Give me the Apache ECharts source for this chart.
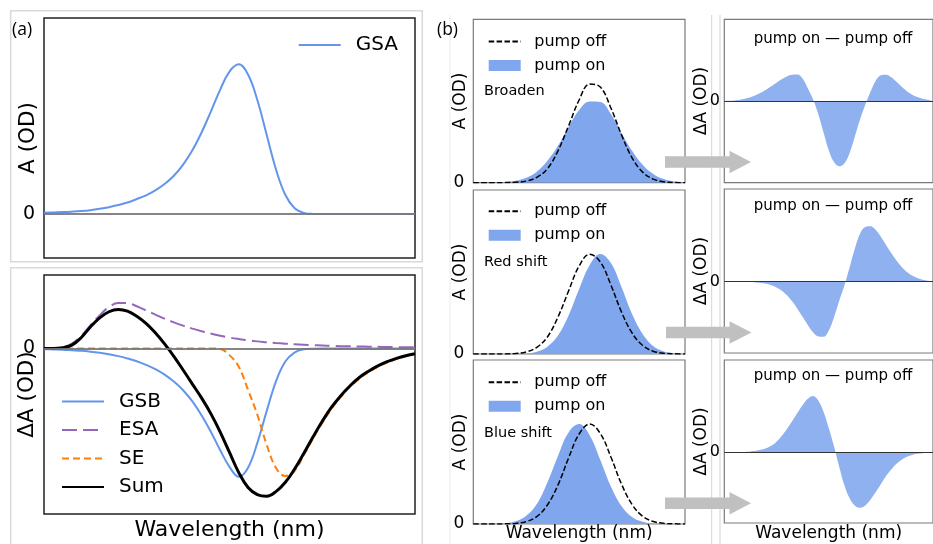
<!DOCTYPE html>
<html><head><meta charset="utf-8">
<script src="https://cdn.jsdelivr.net/npm/echarts@6/dist/echarts.min.js"></script>
<style>html,body{margin:0;padding:0;background:#fff}#c{width:933px;height:544px}</style>
</head><body><div id="c"></div>
<script>
// ---------- panel (a) data: wavelength samples (arb. units) ----------
const xA = [0,2.5,5,7.5,10,12.5,15,17.5,20,22.5,25,27.5,30,32.5,35,37.5,40,42.5,45,47.5,50,52.5,55,57.5,60,62.5,65,67.5,70,72.5,75,77.5,80,82.5,85,87.5,90,92.5,95,97.5,100];
const gsa = [0.009,0.011,0.013,0.016,0.02,0.026,0.035,0.046,0.06,0.077,0.1,0.125,0.158,0.2,0.255,0.33,0.425,0.545,0.685,0.83,0.95,0.998,0.93,0.76,0.53,0.3,0.13,0.04,0.008,0.001,0,0,0,0,0,0,0,0,0,0,0];
const gsb = [-0.004,-0.006,-0.008,-0.011,-0.014,-0.019,-0.026,-0.035,-0.046,-0.06,-0.077,-0.099,-0.125,-0.158,-0.2,-0.252,-0.32,-0.405,-0.505,-0.615,-0.715,-0.775,-0.72,-0.57,-0.38,-0.2,-0.08,-0.025,-0.005,-0.001,0,0,0,0,0,0,0,0,0,0,0];
const esa = [0,0.002,0.008,0.03,0.075,0.14,0.2,0.25,0.275,0.274,0.255,0.23,0.205,0.18,0.158,0.138,0.12,0.104,0.09,0.077,0.066,0.057,0.049,0.043,0.038,0.033,0.029,0.026,0.023,0.02,0.018,0.016,0.014,0.013,0.012,0.011,0.01,0.009,0.008,0.007,0.007];
const se = [0,0,0,0,0,0,0,0,0,0,0,0,0,0,0,0,0,0,0,-0.003,-0.04,-0.11,-0.25,-0.40,-0.58,-0.72,-0.77,-0.74,-0.645,-0.545,-0.45,-0.365,-0.293,-0.232,-0.182,-0.143,-0.11,-0.085,-0.064,-0.047,-0.035];
const sum = [0,0,0.004,0.02,0.065,0.13,0.185,0.222,0.236,0.226,0.195,0.152,0.095,0.028,-0.047,-0.13,-0.215,-0.3,-0.395,-0.505,-0.628,-0.75,-0.84,-0.883,-0.893,-0.865,-0.81,-0.73,-0.635,-0.535,-0.44,-0.355,-0.285,-0.225,-0.175,-0.137,-0.105,-0.08,-0.06,-0.044,-0.032];

// ---------- panel (b) left: absorption spectra ----------
const xB = [0,5,10,15,20,25,30,35,40,45,50,55,60,65,70,75,80,85,90,95,100];
const broadenOff = [0,0,0,0.001,0.004,0.016,0.053,0.14,0.32,0.57,0.83,0.99,0.96,0.75,0.48,0.25,0.106,0.036,0.01,0.002,0];
const broadenOn  = [0,0.0005,0.002,0.006,0.019,0.05,0.11,0.22,0.37,0.56,0.73,0.815,0.81,0.69,0.5,0.32,0.18,0.088,0.037,0.013,0.004];
const redOff  = [0,0,0.0002,0.0011,0.0053,0.021,0.067,0.17,0.37,0.63,0.88,0.998,0.92,0.69,0.42,0.21,0.085,0.028,0.0075,0.0016,0.0003];
const redOn   = [0,0,0,0.0002,0.0013,0.006,0.023,0.073,0.185,0.385,0.65,0.89,1.0,0.91,0.67,0.4,0.2,0.079,0.025,0.0067,0.0014];
const blueOff = [0,0,0.0002,0.0013,0.006,0.024,0.074,0.19,0.39,0.66,0.9,1.0,0.905,0.67,0.4,0.195,0.077,0.025,0.0066,0.0014,0.0002];
const blueOn  = [0,0.0003,0.0015,0.007,0.027,0.082,0.2,0.415,0.68,0.915,0.999,0.886,0.64,0.375,0.18,0.07,0.022,0.0056,0.0012,0.0002,0];

// ---------- panel (b) right: difference spectra ----------
const xD = xA;
const dBroaden = [0,0.002,0.006,0.014,0.027,0.045,0.07,0.1,0.138,0.18,0.224,0.265,0.3,0.321,0.324,0.275,0.155,0.02,-0.16,-0.38,-0.6,-0.745,-0.8,-0.765,-0.64,-0.44,-0.23,-0.05,0.11,0.245,0.315,0.322,0.29,0.235,0.175,0.12,0.078,0.048,0.028,0.015,0.008];
const dRed = [0,0,0,-0.001,-0.003,-0.005,-0.009,-0.015,-0.026,-0.043,-0.07,-0.11,-0.165,-0.24,-0.33,-0.43,-0.53,-0.62,-0.67,-0.675,-0.6,-0.44,-0.24,-0.05,0.17,0.4,0.585,0.67,0.68,0.635,0.55,0.45,0.35,0.26,0.18,0.12,0.075,0.045,0.025,0.013,0.006];
const dBlue = [0,0.001,0.001,0.002,0.005,0.01,0.018,0.03,0.05,0.08,0.13,0.2,0.285,0.38,0.48,0.575,0.655,0.69,0.635,0.5,0.3,0.08,-0.17,-0.4,-0.56,-0.65,-0.678,-0.65,-0.58,-0.49,-0.39,-0.29,-0.21,-0.14,-0.09,-0.055,-0.032,-0.018,-0.01,-0.005,-0.003];

const rowLabels = ['Broaden','Red shift','Blue shift'];
const diffTitle = 'pump on \u2014 pump off';

const F = 'DejaVu Sans';
const BLUE = '#6495ed';
const FILL_L = '#80a7ee';
const FILL_R = '#8fb1ef';
const pairs = (xs, ys) => xs.map((x, i) => [x, ys[i]]);

const chart = echarts.init(document.getElementById('c'), null, {renderer: 'canvas'});

const gridDefs = [
  [44, 18, 371, 240, '#222', 1.5],
  [44, 275, 371, 239, '#222', 1.5],
  [473.3, 19.3, 211.7, 163.4, '#7a7a7a', 1.2],
  [473.3, 190, 211.7, 164, '#7a7a7a', 1.2],
  [473.3, 360, 211.7, 164, '#7a7a7a', 1.2],
  [724.3, 19.3, 211.7, 163.4, '#7a7a7a', 1.2],
  [724.3, 189, 211.7, 164, '#7a7a7a', 1.2],
  [724.3, 360, 211.7, 163, '#7a7a7a', 1.2]
];
const grid = gridDefs.map(g => ({left: g[0], top: g[1], width: g[2], height: g[3], show: true,
  borderColor: g[4], borderWidth: g[5], backgroundColor: 'rgba(0,0,0,0)', containLabel: false}));

const yRanges = [[-0.293, 1.307], [-1, 0.444], [0, 1.64], [0, 1.64], [0, 1.64], [-1, 1], [-0.873, 1.135], [-0.865, 1.13]];
const yNames = ['A (OD)', '\u0394A (OD)', 'A (OD)', 'A (OD)', 'A (OD)', '\u0394A (OD)', '\u0394A (OD)', '\u0394A (OD)'];
const yNameGap = [5, 5.5, 4, 4, 4, 14, 14, 14];
const yNameSize = [21.5, 21.5, 17, 17, 17, 17, 17, 17];
const yLabSize = [19, 19, 17, 17, 17, 16, 16, 16];
const yLabMargin = [9, 9, 9, 9, 9, 4.3, 4.3, 4.3];

const xAxis = grid.map((g, i) => {
  const a = {gridIndex: i, type: 'value', min: 0, max: 100, nameMoveOverlap: false,
    axisLine: {show: false, onZero: false}, axisTick: {show: false}, axisLabel: {show: false}, splitLine: {show: false}};
  if (i === 1) { a.name = 'Wavelength (nm)'; a.nameGap = 5; a.nameTextStyle = {fontSize: 22, fontFamily: F, color: '#000'}; }
  if (i === 4) { a.name = 'Wavelength (nm)'; a.nameGap = 1.5; a.nameTextStyle = {fontSize: 17, fontFamily: F, color: '#000'}; }
  if (i === 7) { a.name = 'Wavelength (nm)'; a.nameGap = 2; a.nameTextStyle = {fontSize: 17, fontFamily: F, color: '#000'}; }
  if (a.name) a.nameLocation = 'middle';
  return a;
});
const yAxis = grid.map((g, i) => ({gridIndex: i, type: 'value', min: yRanges[i][0], max: yRanges[i][1],
  axisLine: {show: false}, axisTick: {show: false}, splitLine: {show: false},
  axisLabel: {customValues: [0], formatter: v => (Math.abs(v) < 1e-9 ? '0' : ''), fontSize: yLabSize[i], fontFamily: F, color: '#000', margin: yLabMargin[i]},
  name: yNames[i], nameLocation: 'middle', nameGap: yNameGap[i], nameMoveOverlap: false,
  nameTextStyle: {fontSize: yNameSize[i], fontFamily: F, color: '#000'}}));

const zeroLine = (color, width) => ({silent: true, symbol: ['none', 'none'], label: {show: false},
  lineStyle: {color: color, width: width, type: 'solid'}, data: [{yAxis: 0}], animation: false});

const line = (name, gi, xs, ys, color, width, type, extra) => Object.assign({
  name: name, type: 'line', xAxisIndex: gi, yAxisIndex: gi, data: pairs(xs, ys), smooth: 0.4,
  symbol: 'none', showSymbol: false, lineStyle: {color: color, width: width, type: type},
  itemStyle: {color: color}, animation: false}, extra || {});

const series = [
  line('GSA', 0, xA, gsa, BLUE, 2, 'solid', {markLine: zeroLine('rgba(120,120,120,0.9)', 2)}),
  line('GSB', 1, xA, gsb, BLUE, 2, 'solid', {markLine: zeroLine('rgba(120,120,120,0.9)', 2)}),
  line('ESA', 1, xA, esa, '#9467bd', 2, [15, 6]),
  line('SE', 1, xA, se, '#ff7f0e', 2, [7, 4]),
  line('Sum', 1, xA, sum, '#000000', 3, 'solid')
];
const offs = [broadenOff, redOff, blueOff];
const ons = [broadenOn, redOn, blueOn];
const diffs = [dBroaden, dRed, dBlue];
for (let r = 0; r < 3; r++) {
  series.push(line('pump on', 2 + r, xB, ons[r], FILL_L, 0, 'solid',
    {itemStyle: {color: FILL_L}, lineStyle: {width: 0, color: FILL_L}, areaStyle: {color: FILL_L, opacity: 1}}));
  series.push(line('pump off', 2 + r, xB, offs[r], '#000000', 1.5, [5.5, 2.4]));
  series.push(line('\u0394A ' + rowLabels[r], 5 + r, xD, diffs[r], FILL_R, 0, 'solid',
    {itemStyle: {color: FILL_R}, lineStyle: {width: 0, color: FILL_R}, areaStyle: {color: FILL_R, opacity: 1},
     markLine: zeroLine('#333333', 1.2)}));
}

const legBase = {orient: 'vertical', padding: 0, selectedMode: false, itemStyle: {opacity: 0}};
const legend = [
  Object.assign({}, legBase, {data: ['GSA'], left: 297.7, top: 35, itemWidth: 42, itemHeight: 14,
    textStyle: {fontSize: 20, fontFamily: F, color: '#000', padding: [0, 0, 0, 10]}}),
  Object.assign({}, legBase, {data: ['GSB', 'ESA', 'SE', 'Sum'], left: 61, top: 391.5, itemWidth: 42, itemHeight: 14, itemGap: 8.5,
    textStyle: {fontSize: 20, fontFamily: F, color: '#000', padding: [0, 0, 0, 10]}})
];
[33.5, 203.2, 374.2].forEach(t => legend.push(Object.assign({}, legBase, {
  data: [{name: 'pump off'}, {name: 'pump on', icon: 'rect', itemStyle: {opacity: 1, color: FILL_L}}],
  left: 487.7, top: t, itemWidth: 32, itemHeight: 11, itemGap: 8,
  textStyle: {fontSize: 16, fontFamily: F, color: '#000', padding: [0, 0, 0, 8.6]}})));

const arrow = (x0, cy, tip) => ({type: 'polygon', z: 100, silent: true,
  shape: {points: [[x0, cy - 5.8], [729.5, cy - 5.8], [729.5, cy - 11.3], [tip, cy], [729.5, cy + 11.3], [729.5, cy + 5.8], [x0, cy + 5.8]]},
  style: {fill: '#c0c0c0'}});
const txt = (text, x, y, size, align, font) => ({type: 'text', z: 100, silent: true, x: x, y: y,
  style: {text: text, fontSize: size, fontFamily: font || F, fill: '#000', align: align || 'left', verticalAlign: 'middle'}});

const graphic = {elements: [
  {type: 'rect', z: -1, silent: true, shape: {x: 10.7, y: 10.7, width: 411.6, height: 251}, style: {fill: 'none', stroke: '#d9d9d9', lineWidth: 1.5}},
  {type: 'rect', z: -1, silent: true, shape: {x: 10.7, y: 267.7, width: 411.6, height: 300}, style: {fill: 'none', stroke: '#d9d9d9', lineWidth: 1.5}},
  {type: 'line', z: -1, silent: true, shape: {x1: 450, y1: 15, x2: 450, y2: 544}, style: {stroke: '#ececec', lineWidth: 1}},
  {type: 'line', z: -1, silent: true, shape: {x1: 711.7, y1: 15, x2: 711.7, y2: 544}, style: {stroke: '#d4d4d4', lineWidth: 1}},
  {type: 'line', z: -1, silent: true, shape: {x1: 720, y1: 15, x2: 720, y2: 544}, style: {stroke: '#d4d4d4', lineWidth: 1}},
  txt('(a)', 12, 30, 17.5, 'left', 'Open Sans'),
  txt('(b)', 437, 30, 17.5, 'left', 'Open Sans'),
  txt(rowLabels[0], 484, 91.7, 14.5),
  txt(rowLabels[1], 484, 262.7, 14.5),
  txt(rowLabels[2], 484, 433.3, 14.5),
  txt(diffTitle, 833, 39.3, 15, 'center'),
  txt(diffTitle, 833, 205.7, 15, 'center'),
  txt(diffTitle, 833, 375.7, 15, 'center'),
  arrow(665, 162, 751),
  arrow(666, 332.5, 751.5),
  arrow(665, 503.3, 751)
]};

chart.setOption({animation: false, backgroundColor: '#ffffff', grid: grid, xAxis: xAxis, yAxis: yAxis,
  legend: legend, series: series, graphic: graphic});
</script>
</body></html>
